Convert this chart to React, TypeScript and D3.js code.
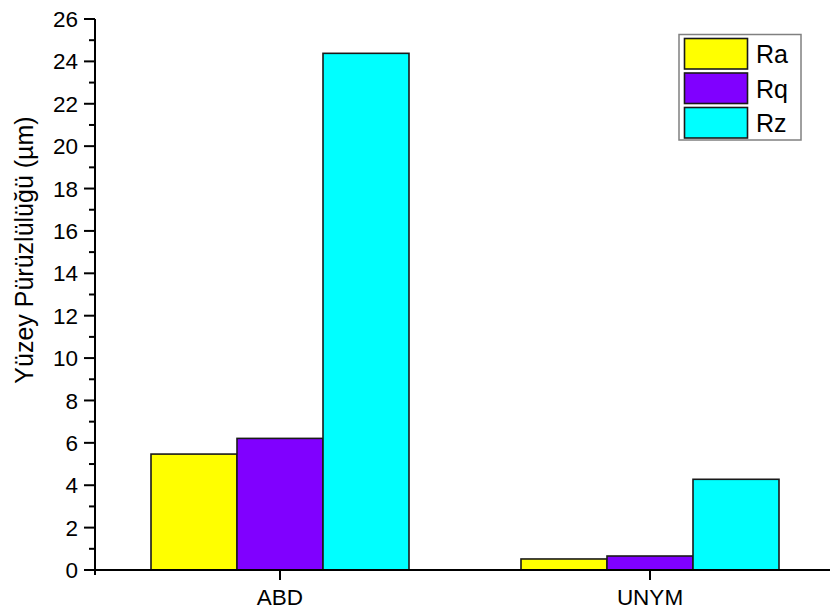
import React from "react";
import * as d3 from "d3";

const categories = ["ABD", "UNYM"];
const seriesNames = ["Ra", "Rq", "Rz"];
const raValues = [5.47, 0.52];
const rqValues = [6.21, 0.66];
const rzValues = [24.38, 4.28];
const seriesColors = ["#ffff00", "#8000ff", "#00ffff"];
const yTicks = [0, 2, 4, 6, 8, 10, 12, 14, 16, 18, 20, 22, 24, 26];
const yMinorTicks = d3.range(1, 26, 2);

const W = 830;
const H = 615;
const FONT = "'Liberation Sans', Arial, sans-serif";

export default function App() {
  const left = 95;
  const right = 835;
  const top = 19;
  const bottom = 570;
  const allValues = [raValues, rqValues, rzValues];

  const x0 = d3.scaleBand<string>().domain(categories).range([left, right]).paddingInner(0.3027).paddingOuter(0.15135);
  const x1 = d3.scaleBand<string>().domain(seriesNames).range([0, x0.bandwidth()]).padding(0);
  const y = d3.scaleLinear().domain([0, 26]).range([bottom, top]);

  return (
    <svg width={W} height={H} style={{ position: "absolute", left: 0, top: 0, background: "#fff" }}>
      <rect x={0} y={0} width={W} height={H} fill="#fff" />
      {/* bars */}
      {categories.map((c, ci) => (
        <g key={c}>
          {seriesNames.map((s, si) => {
            const v = allValues[si][ci];
            const bx = (x0(c) as number) + (x1(s) as number);
            return (
              <rect
                key={s}
                x={bx}
                y={y(v)}
                width={x1.bandwidth()}
                height={y(0) - y(v)}
                fill={seriesColors[si]}
                stroke="#1a1a1a"
                strokeWidth={1.6}
              />
            );
          })}
        </g>
      ))}
      {/* y axis */}
      <line x1={left} x2={left} y1={top} y2={bottom + 5} stroke="#000" strokeWidth={2} />
      {yTicks.map((t) => (
        <g key={t}>
          <line x1={left - 11} x2={left} y1={y(t)} y2={y(t)} stroke="#000" strokeWidth={2} />
          <text x={left - 17} y={y(t)} dy="0.36em" textAnchor="end" fontFamily={FONT} fontSize={22.5} fill="#000">
            {t}
          </text>
        </g>
      ))}
      {yMinorTicks.map((t) => (
        <line key={t} x1={left - 6} x2={left} y1={y(t)} y2={y(t)} stroke="#000" strokeWidth={2} />
      ))}
      {/* x axis */}
      <line x1={left - 1} x2={W} y1={bottom} y2={bottom} stroke="#000" strokeWidth={2} />
      {categories.map((c) => {
        const cx = (x0(c) as number) + x0.bandwidth() / 2;
        return (
          <g key={c}>
            <line x1={cx} x2={cx} y1={bottom} y2={bottom + 10} stroke="#000" strokeWidth={2} />
            <text x={cx} y={bottom + 35} textAnchor="middle" fontFamily={FONT} fontSize={22.5} fill="#000">
              {c}
            </text>
          </g>
        );
      })}
      {/* y title */}
      <text
        transform={`translate(33, 250) rotate(-90)`}
        textAnchor="middle"
        fontFamily={FONT}
        fontSize={25}
        fill="#000"
      >
        Yüzey Pürüzlülüğü (µm)
      </text>
      {/* legend */}
      <rect x={679} y={34.5} width={122} height={105.5} fill="#fff" stroke="#808080" strokeWidth={1.5} />
      {seriesNames.map((s, i) => {
        const ly = 38.5 + i * 34.5;
        return (
          <g key={s}>
            <rect x={684.5} y={ly} width={63} height={30.5} fill={seriesColors[i]} stroke="#1a1a1a" strokeWidth={1.6} />
            <text x={756} y={ly + 15.5} dy="0.36em" fontFamily={FONT} fontSize={25} fill="#000">
              {s}
            </text>
          </g>
        );
      })}
    </svg>
  );
}
